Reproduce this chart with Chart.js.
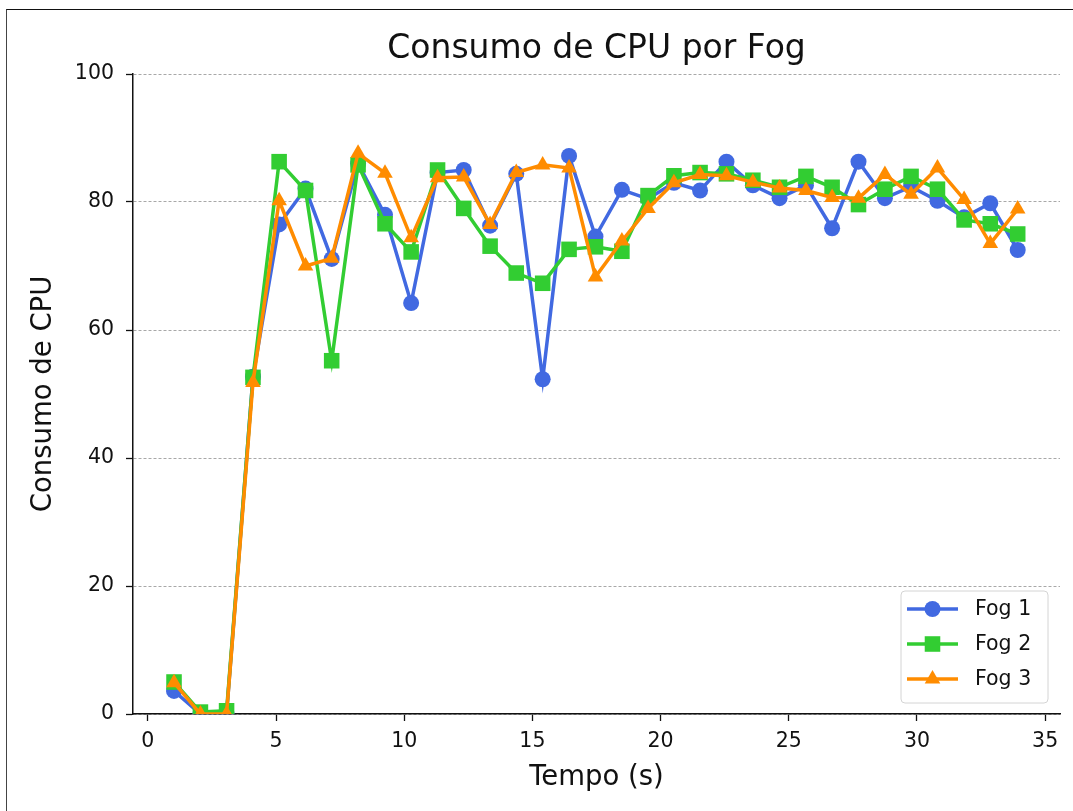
<!DOCTYPE html>
<html>
<head>
<meta charset="utf-8">
<script src="https://cdn.jsdelivr.net/npm/chart.js@4.4.0/dist/chart.umd.min.js"></script>
<style>
  html, body { margin: 0; padding: 0; background: #fff; overflow: hidden; }
  #frame { position: absolute; left: 6px; top: 9px; width: 1200px; height: 900px;
           border-left: 1px solid #444; border-top: 1.5px solid #111; }
  #wrap { position: absolute; left: 0; top: 0; width: 1073px; height: 811px; }
</style>
</head>
<body>
<div id="frame"></div>
<div id="wrap"><canvas id="cpuChart" width="1073" height="811"></canvas></div>
<script>
// tempo de cada amostra (s)
var tempos = [1.02, 2.05, 3.07, 4.1, 5.12, 6.15, 7.17, 8.2, 9.25, 10.27, 11.3,
              12.32, 13.35, 14.37, 15.4, 16.43, 17.46, 18.49, 19.51, 20.52, 21.54,
              22.57, 23.6, 24.64, 25.67, 26.69, 27.72, 28.75, 29.77, 30.8, 31.84,
              32.86, 33.93];

// consumo de CPU (%) de cada fog
var fog1 = [3.6, 0, 0, 52.7, 76.5, 82.1, 71.1, 86.0, 78.0, 64.2, 84.6,
            85.0, 76.3, 84.4, 52.3, 87.2, 74.6, 81.9, 80.5, 83.0, 81.8,
            86.3, 82.6, 80.6, 82.6, 75.9, 86.3, 80.6, 82.4, 80.2, 77.6,
            79.8, 72.5];
var fog2 = [5.0, 0.3, 0.5, 52.6, 86.3, 81.8, 55.2, 85.8, 76.6, 72.2, 85.0,
            79.0, 73.1, 68.9, 67.3, 72.6, 73.0, 72.3, 81.0, 84.1, 84.6,
            84.4, 83.4, 82.3, 84.0, 82.3, 79.6, 82.0, 84.0, 82.0, 77.2,
            76.6, 75.0];
var fog3 = [4.9, 0, 0, 51.8, 80.2, 70.0, 71.2, 87.6, 84.5, 74.4, 83.8,
            83.9, 76.5, 84.6, 85.8, 85.3, 68.3, 73.9, 79.0, 83.0, 84.3,
            84.1, 83.1, 82.2, 81.8, 80.7, 80.6, 84.3, 81.2, 85.3, 80.4,
            73.5, 78.9];

var xTicks = [0, 5, 10, 15, 20, 25, 30, 35];
var yTicks = [0, 20, 40, 60, 80, 100];

var fonte = "'DejaVu Sans', sans-serif";

var toPoints = function(valores) {
    return tempos.map((t, i) => ({ x: t, y: valores[i] }));
};

var serie = function(label, valores, cor, estilo, raio, ordem) {
    return {
        label: label,
        data: toPoints(valores),
        borderColor: cor,
        backgroundColor: cor,
        borderWidth: 3.5,
        pointStyle: estilo,
        pointRadius: raio,
        pointHoverRadius: raio,
        pointBackgroundColor: cor,
        pointBorderColor: cor,
        pointBorderWidth: 0,
        tension: 0,
        clip: 0,
        order: ordem
    };
};

// legenda no canto inferior direito, dentro da área do gráfico
var legendaFog = {
    id: 'legendaFog',
    afterDraw(chart) {
        const ctx = chart.ctx;
        const x0 = 901, y0 = 591, w = 147, h = 112;
        ctx.save();
        ctx.beginPath();
        ctx.roundRect(x0, y0, w, h, 4);
        ctx.fillStyle = 'rgba(255,255,255,0.85)';
        ctx.fill();
        ctx.strokeStyle = '#d4d4d4';
        ctx.lineWidth = 1;
        ctx.stroke();

        chart.data.datasets.forEach((ds, i) => {
            const y = 609 + i * 35;
            ctx.strokeStyle = ds.borderColor;
            ctx.lineWidth = ds.borderWidth;
            ctx.beginPath();
            ctx.moveTo(907, y);
            ctx.lineTo(958, y);
            ctx.stroke();
            ctx.fillStyle = ds.pointBackgroundColor;
            Chart.helpers.drawPoint(ctx, { pointStyle: ds.pointStyle, radius: ds.pointRadius, borderWidth: 0, rotation: 0 }, 932.5, y);
            ctx.fillStyle = '#111';
            ctx.font = '20.5px ' + fonte;
            ctx.textBaseline = 'middle';
            ctx.textAlign = 'left';
            ctx.fillText(ds.label, 975, y + 1);
        });
        ctx.restore();
    }
};

var ctx = document.getElementById('cpuChart').getContext('2d');
var cpuChart = new Chart(ctx, {
    type: 'line',
    data: {
        datasets: [
            serie('Fog 1', fog1, '#4169e1', 'circle', 8, 2),
            serie('Fog 2', fog2, '#32cd32', 'rect', 11, 1),
            serie('Fog 3', fog3, '#ff8c00', 'triangle', 9, 0)
        ]
    },
    options: {
        responsive: false,
        animation: false,
        devicePixelRatio: 1,
        layout: { padding: { left: 0, right: 13, top: 0, bottom: 0 } },
        plugins: {
            legend: { display: false },
            tooltip: { enabled: false },
            title: {
                display: true,
                text: 'Consumo de CPU por Fog',
                fullSize: false,
                color: '#111',
                font: { family: fonte, size: 33, weight: 'normal' },
                padding: { top: 30, bottom: 4.4 }
            }
        },
        scales: {
            x: {
                type: 'linear',
                min: -0.58,
                max: 35.58,
                afterBuildTicks: (scale) => { scale.ticks = xTicks.map(v => ({ value: v })); },
                afterFit: (scale) => { scale.height = 97; },
                grid: { drawOnChartArea: false, drawTicks: true, tickLength: 7, tickColor: '#111', tickWidth: 1.3 },
                border: { display: true, color: '#111', width: 1.5 },
                ticks: { color: '#111', padding: 8, font: { family: fonte, size: 20.5 } },
                title: {
                    display: true,
                    text: 'Tempo (s)',
                    color: '#111',
                    font: { family: fonte, size: 27.5 },
                    padding: { top: 0, bottom: 17 }
                }
            },
            y: {
                min: 0,
                max: 100,
                afterBuildTicks: (scale) => { scale.ticks = yTicks.map(v => ({ value: v })); },
                afterFit: (scale) => { scale.width = 133; },
                grid: { color: '#a8a8a8', lineWidth: 1, drawTicks: true, tickLength: 7, tickColor: '#111', tickWidth: 1.3, tickBorderDash: [] },
                border: { display: true, color: '#111', width: 1.5, dash: [3, 2] },
                ticks: { color: '#111', padding: 12, font: { family: fonte, size: 20.5 } },
                title: {
                    display: true,
                    text: 'Consumo de CPU',
                    color: '#111',
                    font: { family: fonte, size: 27.5 },
                    padding: { top: 27, bottom: 0 }
                }
            }
        }
    },
    plugins: [legendaFog]
});
</script>
</body>
</html>
